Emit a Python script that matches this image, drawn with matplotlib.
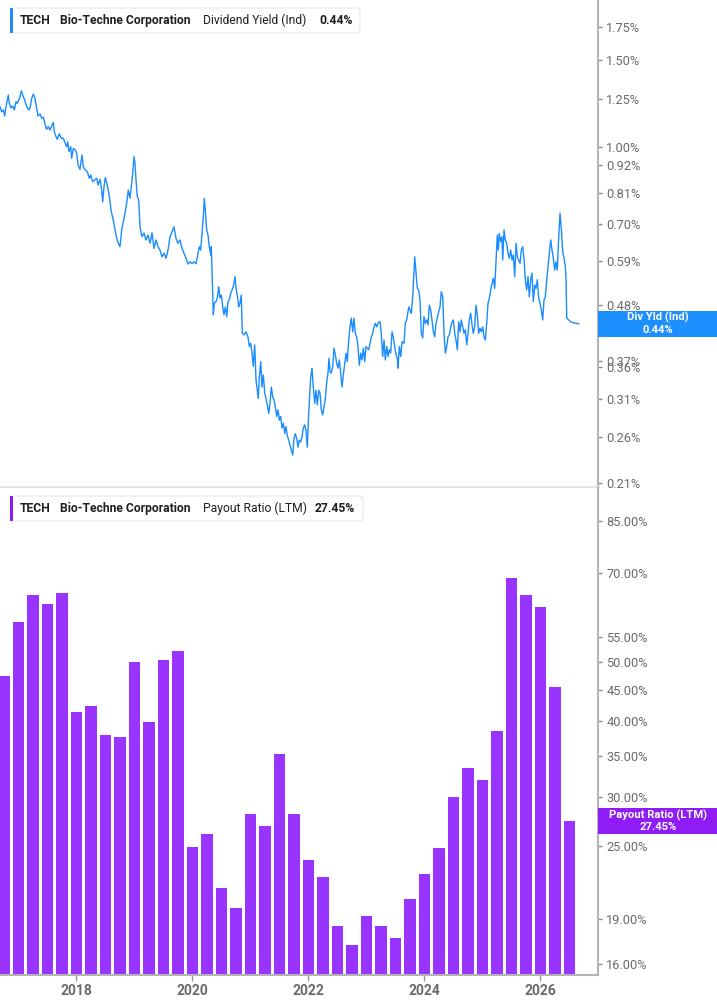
import numpy as np
import matplotlib
matplotlib.use("Agg")
import matplotlib.pyplot as plt
from matplotlib.patches import FancyBboxPatch, Rectangle

plt.rcParams["font.family"] = ["Roboto", "DejaVu Sans"]

# ── Dividend yield (Ind), % ──────────────────────────────────
yield_dates = [
    2016.683, 2016.712, 2016.740, 2016.764, 2016.786, 2016.826, 2016.843, 2016.873,
    2016.902, 2016.930, 2016.959, 2016.981, 2017.005, 2017.028, 2017.050, 2017.074,
    2017.109, 2017.143, 2017.178, 2017.200, 2017.230, 2017.257, 2017.286, 2017.316,
    2017.338, 2017.373, 2017.402, 2017.430, 2017.464, 2017.488, 2017.516, 2017.545,
    2017.580, 2017.602, 2017.619, 2017.649, 2017.671, 2017.705, 2017.740, 2017.774,
    2017.809, 2017.833, 2017.850, 2017.873, 2017.902, 2017.919, 2017.947, 2017.981,
    2018.005, 2018.028, 2018.062, 2018.097, 2018.119, 2018.154, 2018.188, 2018.223,
    2018.247, 2018.281, 2018.316, 2018.350, 2018.373, 2018.407, 2018.436, 2018.454,
    2018.476, 2018.499, 2018.533, 2018.568, 2018.602, 2018.636, 2018.666, 2018.695,
    2018.723, 2018.752, 2018.781, 2018.809, 2018.838, 2018.867, 2018.895, 2018.924,
    2018.947, 2018.971, 2018.993, 2019.011, 2019.028, 2019.050, 2019.074, 2019.097,
    2019.131, 2019.166, 2019.200, 2019.235, 2019.269, 2019.304, 2019.338, 2019.373,
    2019.407, 2019.442, 2019.476, 2019.511, 2019.545, 2019.580, 2019.614, 2019.649,
    2019.683, 2019.717, 2019.752, 2019.786, 2019.821, 2019.855, 2019.890, 2019.924,
    2019.959, 2019.993, 2020.028, 2020.062, 2020.097, 2020.119, 2020.143, 2020.166,
    2020.188, 2020.205, 2020.222, 2020.246, 2020.269, 2020.291, 2020.316, 2020.326,
    2020.338, 2020.350, 2020.361, 2020.378, 2020.407, 2020.430, 2020.454, 2020.476,
    2020.499, 2020.523, 2020.545, 2020.568, 2020.592, 2020.614, 2020.636, 2020.661,
    2020.683, 2020.705, 2020.735, 2020.752, 2020.774, 2020.799, 2020.821, 2020.843,
    2020.861, 2020.890, 2020.924, 2020.959, 2020.981, 2021.005, 2021.028, 2021.050,
    2021.074, 2021.097, 2021.119, 2021.136, 2021.154, 2021.178, 2021.200, 2021.223,
    2021.247, 2021.269, 2021.291, 2021.316, 2021.338, 2021.361, 2021.385, 2021.407,
    2021.430, 2021.454, 2021.476, 2021.499, 2021.523, 2021.545, 2021.568, 2021.592,
    2021.614, 2021.636, 2021.661, 2021.683, 2021.705, 2021.730, 2021.752, 2021.774,
    2021.799, 2021.821, 2021.843, 2021.867, 2021.890, 2021.912, 2021.936, 2021.959,
    2021.981, 2022.005, 2022.016, 2022.040, 2022.062, 2022.085, 2022.109, 2022.131,
    2022.154, 2022.178, 2022.200, 2022.223, 2022.247, 2022.269, 2022.291, 2022.316,
    2022.338, 2022.355, 2022.373, 2022.395, 2022.419, 2022.442, 2022.464, 2022.488,
    2022.511, 2022.533, 2022.557, 2022.580, 2022.602, 2022.626, 2022.649, 2022.671,
    2022.695, 2022.717, 2022.740, 2022.764, 2022.786, 2022.809, 2022.833, 2022.855,
    2022.878, 2022.902, 2022.924, 2022.947, 2022.971, 2022.993, 2023.016, 2023.040,
    2023.062, 2023.085, 2023.109, 2023.131, 2023.154, 2023.178, 2023.212, 2023.235,
    2023.257, 2023.281, 2023.304, 2023.326, 2023.350, 2023.373, 2023.395, 2023.419,
    2023.442, 2023.464, 2023.488, 2023.511, 2023.533, 2023.545, 2023.568, 2023.592,
    2023.614, 2023.649, 2023.671, 2023.695, 2023.730, 2023.752, 2023.774, 2023.799,
    2023.816, 2023.833, 2023.855, 2023.878, 2023.902, 2023.924, 2023.947, 2023.971,
    2023.993, 2024.016, 2024.040, 2024.062, 2024.085, 2024.109, 2024.131, 2024.154,
    2024.178, 2024.200, 2024.223, 2024.247, 2024.269, 2024.291, 2024.316, 2024.338,
    2024.361, 2024.385, 2024.407, 2024.430, 2024.454, 2024.476, 2024.499, 2024.523,
    2024.545, 2024.568, 2024.592, 2024.614, 2024.636, 2024.661, 2024.683, 2024.705,
    2024.730, 2024.752, 2024.774, 2024.799, 2024.821, 2024.843, 2024.867, 2024.890,
    2024.912, 2024.936, 2024.959, 2024.981, 2025.005, 2025.028, 2025.050, 2025.074,
    2025.097, 2025.119, 2025.143, 2025.166, 2025.188, 2025.212, 2025.235, 2025.257,
    2025.274, 2025.291, 2025.316, 2025.338, 2025.350, 2025.373, 2025.395, 2025.419,
    2025.442, 2025.464, 2025.488, 2025.511, 2025.533, 2025.557, 2025.580, 2025.602,
    2025.626, 2025.649, 2025.671, 2025.695, 2025.717, 2025.740, 2025.764, 2025.786,
    2025.809, 2025.833, 2025.855, 2025.878, 2025.902, 2025.924, 2025.947, 2025.971,
    2025.993, 2026.016, 2026.040, 2026.062, 2026.085, 2026.109, 2026.131, 2026.154,
    2026.178, 2026.200, 2026.223, 2026.247, 2026.269, 2026.291, 2026.316, 2026.338,
    2026.361, 2026.385, 2026.407, 2026.430, 2026.442, 2026.454, 2026.488, 2026.523,
    2026.568, 2026.626, 2026.661,
]
yield_values = [
    1.208, 1.180, 1.190, 1.157, 1.208, 1.275, 1.229, 1.201,
    1.212, 1.190, 1.236, 1.227, 1.246, 1.265, 1.301, 1.275,
    1.246, 1.208, 1.190, 1.199, 1.256, 1.281, 1.256, 1.199,
    1.157, 1.168, 1.145, 1.151, 1.109, 1.087, 1.101, 1.084,
    1.109, 1.122, 1.075, 1.051, 1.038, 1.065, 1.043, 1.043,
    1.019, 1.003, 1.026, 0.980, 1.003, 0.950, 0.995, 0.988,
    0.973, 0.921, 0.903, 0.965, 0.914, 0.900, 0.893, 0.866,
    0.879, 0.852, 0.859, 0.866, 0.839, 0.862, 0.820, 0.776,
    0.833, 0.869, 0.839, 0.795, 0.741, 0.713, 0.681, 0.655,
    0.640, 0.630, 0.681, 0.707, 0.736, 0.771, 0.820, 0.789,
    0.833, 0.886, 0.957, 0.928, 0.859, 0.795, 0.783, 0.691,
    0.660, 0.671, 0.650, 0.665, 0.640, 0.672, 0.625, 0.650,
    0.630, 0.620, 0.601, 0.611, 0.597, 0.620, 0.660, 0.675,
    0.691, 0.655, 0.640, 0.650, 0.625, 0.611, 0.597, 0.581,
    0.587, 0.582, 0.587, 0.582, 0.611, 0.630, 0.620, 0.670,
    0.724, 0.789, 0.747, 0.681, 0.665, 0.630, 0.606, 0.630,
    0.565, 0.499, 0.459, 0.484, 0.488, 0.496, 0.523, 0.496,
    0.503, 0.476, 0.459, 0.476, 0.455, 0.488, 0.492, 0.507,
    0.515, 0.523, 0.548, 0.519, 0.503, 0.476, 0.484, 0.503,
    0.421, 0.418, 0.424, 0.414, 0.396, 0.402, 0.384, 0.361,
    0.399, 0.339, 0.323, 0.311, 0.344, 0.369, 0.328, 0.347,
    0.319, 0.311, 0.302, 0.290, 0.304, 0.328, 0.313, 0.309,
    0.299, 0.286, 0.295, 0.281, 0.286, 0.271, 0.277, 0.264,
    0.273, 0.262, 0.256, 0.250, 0.245, 0.239, 0.258, 0.264,
    0.258, 0.248, 0.256, 0.254, 0.260, 0.271, 0.275, 0.268,
    0.248, 0.290, 0.306, 0.344, 0.358, 0.328, 0.304, 0.323,
    0.302, 0.323, 0.319, 0.295, 0.288, 0.299, 0.309, 0.336,
    0.350, 0.375, 0.352, 0.350, 0.361, 0.393, 0.381, 0.366,
    0.358, 0.372, 0.350, 0.328, 0.347, 0.366, 0.384, 0.369,
    0.408, 0.434, 0.452, 0.424, 0.452, 0.421, 0.414, 0.396,
    0.363, 0.384, 0.372, 0.393, 0.369, 0.396, 0.393, 0.390,
    0.402, 0.414, 0.421, 0.434, 0.441, 0.434, 0.444, 0.444,
    0.421, 0.378, 0.408, 0.372, 0.396, 0.378, 0.390, 0.384,
    0.424, 0.414, 0.396, 0.381, 0.375, 0.358, 0.396, 0.378,
    0.405, 0.402, 0.441, 0.448, 0.476, 0.469, 0.462, 0.499,
    0.548, 0.601, 0.561, 0.519, 0.515, 0.492, 0.421, 0.412,
    0.455, 0.441, 0.448, 0.438, 0.480, 0.469, 0.448, 0.424,
    0.414, 0.441, 0.452, 0.466, 0.476, 0.511, 0.499, 0.421,
    0.384, 0.396, 0.414, 0.418, 0.434, 0.444, 0.448, 0.421,
    0.408, 0.390, 0.444, 0.424, 0.448, 0.434, 0.421, 0.428,
    0.399, 0.421, 0.448, 0.462, 0.438, 0.421, 0.434, 0.480,
    0.459, 0.421, 0.431, 0.424, 0.434, 0.414, 0.408, 0.441,
    0.484, 0.496, 0.515, 0.531, 0.544, 0.519, 0.592, 0.665,
    0.620, 0.670, 0.645, 0.660, 0.592, 0.681, 0.650, 0.640,
    0.611, 0.597, 0.620, 0.592, 0.606, 0.548, 0.640, 0.601,
    0.592, 0.583, 0.620, 0.630, 0.597, 0.540, 0.515, 0.548,
    0.499, 0.540, 0.557, 0.488, 0.527, 0.519, 0.540, 0.496,
    0.484, 0.469, 0.448, 0.492, 0.499, 0.540, 0.574, 0.611,
    0.650, 0.620, 0.597, 0.565, 0.587, 0.565, 0.660, 0.736,
    0.681, 0.615, 0.597, 0.574, 0.540, 0.452, 0.448, 0.444,
    0.442, 0.441, 0.440,
]

# ── Payout ratio (LTM), % — quarterly bars ───────────────────
payout_dates = [
    2016.75,
    2017.00, 2017.25, 2017.50, 2017.75,
    2018.00, 2018.25, 2018.50, 2018.75,
    2019.00, 2019.25, 2019.50, 2019.75,
    2020.00, 2020.25, 2020.50, 2020.75,
    2021.00, 2021.25, 2021.50, 2021.75,
    2022.00, 2022.25, 2022.50, 2022.75,
    2023.00, 2023.25, 2023.50, 2023.75,
    2024.00, 2024.25, 2024.50, 2024.75,
    2025.00, 2025.25, 2025.50, 2025.75,
    2026.00, 2026.25, 2026.50,
]
payout_values = [
    47.4,
    58.0, 64.4, 62.2, 64.7,
    41.4, 42.3, 38.0, 37.7,
    50.0, 39.8, 50.3, 52.1,
    24.9, 26.1, 21.3, 19.8,
    28.2, 26.9, 35.3, 28.2,
    23.7, 22.2, 18.45, 17.2,
    19.2, 18.5, 17.65, 20.45,
    22.5, 24.8, 30.0, 33.5,
    32.0, 38.5, 68.6, 64.3,
    61.5, 45.5, 27.45,
]

yield_ticks = [1.75, 1.50, 1.25, 1.00, 0.92, 0.81, 0.70, 0.59, 0.48,
               0.37, 0.36, 0.31, 0.26, 0.21]
payout_ticks = [85, 70, 55, 50, 45, 40, 35, 30, 25, 19, 16]
year_ticks = [2018, 2020, 2022, 2024, 2026]

BLUE = "#1a8cff"
PURPLE = "#9933ff"
PURPLE_TAG = "#8f1cf5"
AXIS_GRAY = "#b4b4b4"
LABEL_GRAY = "#6a6a6a"
TEXT_DARK = "#1f1f1f"

W, H = 717, 1005
fig = plt.figure(figsize=(W / 100, H / 100), dpi=100)


def fx(px):
    return px / W


def fy(py):
    return 1 - py / H


ax1 = fig.add_axes([0, fy(487), fx(598), 487 / H])
ax2 = fig.add_axes([0, fy(974.5), fx(598), 486.5 / H])

for ax in (ax1, ax2):
    ax.set_facecolor("white")
    ax.spines["left"].set_visible(False)
    ax.spines["top"].set_visible(False)
    ax.spines["right"].set_color(AXIS_GRAY)
    ax.spines["right"].set_linewidth(1.5)
    ax.set_yscale("log")
    ax.yaxis.tick_right()
    ax.minorticks_off()
    ax.tick_params(axis="y", which="both", direction="out", length=3,
                   width=1, color="#888888", labelsize=9.2,
                   labelcolor=LABEL_GRAY, pad=3)
    ax.set_xlim(2016.683, 2026.993)

# ── top panel: dividend yield line ───────────────────────────
ax1.plot(yield_dates, yield_values, color=BLUE, lw=1.0)
ax1.set_ylim(0.2060, 1.9842)
ax1.set_yticks(yield_ticks)
ax1.set_yticklabels([f"{t:.2f}%" for t in yield_ticks])
ax1.minorticks_off()
ax1.set_xticks([])
ax1.spines["bottom"].set_color("#e3e3e3")
ax1.spines["bottom"].set_linewidth(2)

# ── bottom panel: payout ratio bars ──────────────────────────
# log axis: start the bars well below the visible range
base = 5.0
ax2.bar(payout_dates, np.array(payout_values) - base, width=0.195,
        bottom=base, color=PURPLE, edgecolor="none")
ax2.set_ylim(15.39, 96.25)
ax2.set_yticks(payout_ticks)
ax2.set_yticklabels([f"{t:.2f}%" for t in payout_ticks])
ax2.minorticks_off()
ax2.spines["bottom"].set_color(AXIS_GRAY)
ax2.spines["bottom"].set_linewidth(1.5)
ax2.set_xticks(year_ticks)
ax2.set_xticklabels([str(y) for y in year_ticks])
ax2.tick_params(axis="x", direction="out", length=4, width=1,
                color="#999999", labelsize=10, labelcolor=LABEL_GRAY, pad=3)
for lbl in ax2.get_xticklabels():
    lbl.set_fontweight("bold")


# ── legend boxes (top left of each panel) ────────────────────
def legend_box(y0, y1, x1, accent, parts):
    box = FancyBboxPatch((fx(11), fy(y1)), fx(x1 - 11), (y1 - y0) / H,
                         boxstyle="round,pad=0,rounding_size=0.004",
                         transform=fig.transFigure, facecolor="white",
                         edgecolor="#e6e6e6", lw=0.8, zorder=5)
    fig.patches.append(box)
    bar = Rectangle((fx(10), fy(y1)), fx(3), (y1 - y0) / H,
                    transform=fig.transFigure, facecolor=accent,
                    edgecolor="none", zorder=6)
    fig.patches.append(bar)
    yc = fy((y0 + y1) / 2)
    for x, s, w in parts:
        fig.text(fx(x), yc, s, ha="left", va="center", fontsize=8.7,
                 fontweight=w, color=TEXT_DARK, zorder=7)


legend_box(8, 33, 360, BLUE, [
    (20, "TECH", "bold"),
    (60, "Bio-Techne Corporation", "bold"),
    (203, "Dividend Yield (Ind)", "normal"),
    (319, "0.44%", "bold"),
])
legend_box(496, 521, 363, PURPLE_TAG, [
    (20, "TECH", "bold"),
    (60, "Bio-Techne Corporation", "bold"),
    (203, "Payout Ratio (LTM)", "normal"),
    (315, "27.45%", "bold"),
])


# ── last-value tags on the right axis ────────────────────────
def value_tag(ax, value, color, title, text):
    fig.canvas.draw()
    _, py = ax.transData.transform((2020, value))
    yc = py / (H)
    h = 26 / H
    fig.patches.append(Rectangle((fx(598), yc - h / 2), 1 - fx(598), h,
                                 transform=fig.transFigure, facecolor=color,
                                 edgecolor="none", zorder=8))
    fig.text(fx(658), yc + 6 / H, title, ha="center", va="center",
             fontsize=8.1, fontweight="bold", color="white", zorder=9)
    fig.text(fx(658), yc - 6 / H, text, ha="center", va="center",
             fontsize=8.1, fontweight="bold", color="white", zorder=9)


value_tag(ax1, yield_values[-1], "#1e8fff", "Div Yld (Ind)",
          f"{yield_values[-1]:.2f}%")
value_tag(ax2, payout_values[-1], PURPLE_TAG, "Payout Ratio (LTM)",
          f"{payout_values[-1]:.2f}%")

fig.savefig("out.png", dpi=100, facecolor="white")
